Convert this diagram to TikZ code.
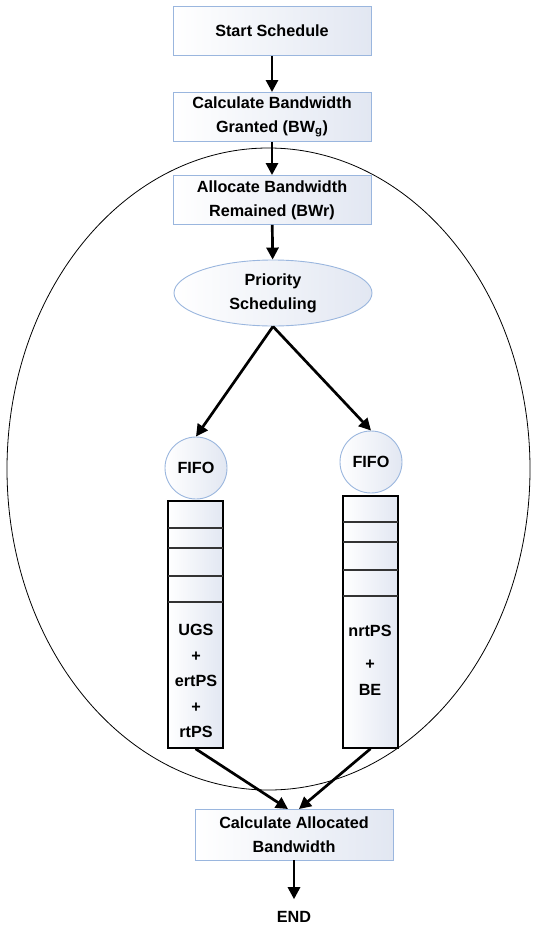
\documentclass[tikz,border=0pt]{standalone}
\usepackage{fontspec}
\setmainfont{Liberation Sans}
\usetikzlibrary{shapes.geometric,arrows.meta,positioning}
\definecolor{boxline}{HTML}{9AB6DE}
\definecolor{boxfill}{HTML}{E2E7F2}

\begin{document}
\begin{tikzpicture}[x=1pt,y=-1pt,
	every node/.style={font=\fontsize{16.2}{24}\selectfont\bfseries},
	stepbox/.style={draw=boxline,line width=0.9pt,left color=white,right color=boxfill,
		minimum width=198pt,minimum height=49pt,inner sep=0pt,align=center},
	fifo/.style={circle,draw=boxline,line width=0.9pt,left color=white,right color=boxfill,
		minimum size=62pt,inner sep=0pt},
	queue/.style={draw=black,line width=1.5pt,left color=white,right color=boxfill,
		minimum width=55pt,inner sep=0pt},
	flow/.style={-{Triangle[length=12pt,width=12pt]},line width=2.7pt},
	divider/.style={black!80,line width=1.3pt}]
	
	\useasboundingbox (0,0) rectangle (534,926);
	
	%outer ellipse
	\draw[line width=0.8pt] (268.5,469) ellipse [x radius=261.5pt, y radius=321pt];
	
	%upper boxes
	\node[stepbox] (start) at (272,31)  {Start Schedule};
	\node[stepbox] (calcg) at (272,117) {Calculate Bandwidth\\Granted (BW\textsubscript{g})};
	\node[stepbox] (alloc) at (272,200) {Allocate Bandwidth\\Remained (BWr)};
	\node[ellipse,draw=boxline,line width=0.9pt,left color=white,right color=boxfill,
		minimum width=198pt,minimum height=66pt,inner sep=0pt,align=center]
		(prio) at (273,293) {Priority\\Scheduling};
	
	%fifo circles
	\node[fifo] (fifoL) at (196,468) {FIFO};
	\node[fifo] (fifoR) at (371,462) {FIFO};
	
	%queues
	\node[queue,minimum height=247pt] (qL) at (195.5,624.5) {};
	\node[queue,minimum height=252pt] (qR) at (370.5,622) {};
	\foreach \y in {528,548,576,602}
		\draw[divider] (168,\y) -- (223,\y);
	\foreach \y in {522,542,570,596}
		\draw[divider] (343,\y) -- (398,\y);
	
	%queue captions
	\node[align=center,font=\fontsize{16.2}{25.5}\selectfont\bfseries] (txtL) at (196,681)
		{UGS\\+\\ertPS\\+\\rtPS};
	\node (txtR1) at (370,631) {nrtPS};
	\node (txtR2) at (370,665) {+};
	\node (txtR3) at (370,690) {BE};
	
	%lower boxes
	\node[stepbox,minimum height=51pt] (calca) at (294,834.5) {Calculate Allocated\\Bandwidth};
	\node[inner sep=0pt] (end) at (294,917) {END};
	
	\coordinate (inL) at (288,809);
	\coordinate (inR) at (299,809);
	
	%arrows
	\draw[flow] (start) -- (calcg);
	\draw[flow] (calcg) -- (alloc);
	\draw[flow] (alloc) -- (prio);
	\draw[flow] (prio.south) -- (fifoL.north);
	\draw[flow] (prio.south) -- (fifoR.north);
	\draw[flow] (qL.south) -- (inL);
	\draw[flow] (qR.south) -- (inR);
	\draw[flow,shorten >=12pt] (calca) -- (end);
	
\end{tikzpicture}
\end{document}
